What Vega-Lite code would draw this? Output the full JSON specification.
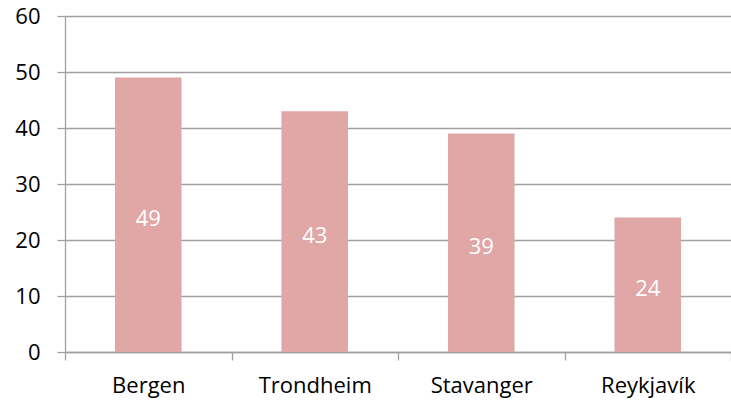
{
  "$schema": "https://vega.github.io/schema/vega-lite/v6.json",
  "width": 666,
  "height": 336,
  "autosize": {"type": "none"},
  "padding": {"left": 65, "top": 16, "right": 0, "bottom": 49},
  "background": "white",
  "config": {"view": {"stroke": null}, "font": "Open Sans"},
  "data": {"values": [
    {"city": "Bergen", "value": 49},
    {"city": "Trondheim", "value": 43},
    {"city": "Stavanger", "value": 39},
    {"city": "Reykjavík", "value": 24}
  ]},
  "encoding": {
    "x": {"field": "city", "type": "nominal", "sort": null,
      "scale": {"paddingInner": 0, "paddingOuter": 0},
      "axis": {"title": null, "labelAngle": 0, "labelFontSize": 22, "labelColor": "#000000",
        "tickBand": "extent", "tickSize": 8, "tickColor": "#A0A0A0", "domainColor": "#A0A0A0",
        "tickWidth": 1.3, "domainWidth": 1.3,
        "labelPadding": 15, "grid": false}}
  },
  "layer": [
    {"mark": {"type": "bar", "color": "#E0A7A6", "width": {"band": 0.4}},
     "encoding": {"y": {"field": "value", "type": "quantitative",
       "scale": {"domain": [0, 60]},
       "axis": {"title": null, "values": [0,10,20,30,40,50,60], "labelFontSize": 22, "labelColor": "#000000",
         "tickSize": 8, "tickColor": "#A0A0A0", "domainColor": "#A0A0A0", "gridColor": "#A0A0A0",
         "tickWidth": 1.3, "domainWidth": 1.3,
         "gridWidth": 1.3, "labelPadding": 17}}}},
    {"mark": {"type": "text", "color": "white", "fontSize": 22, "baseline": "middle", "dy": 4},
     "encoding": {
       "y": {"field": "value", "type": "quantitative", "scale": {"domain": [0, 120]}, "axis": null},
       "text": {"field": "value", "type": "quantitative"}}}
  ],
  "resolve": {"scale": {"y": "independent"}}
}
